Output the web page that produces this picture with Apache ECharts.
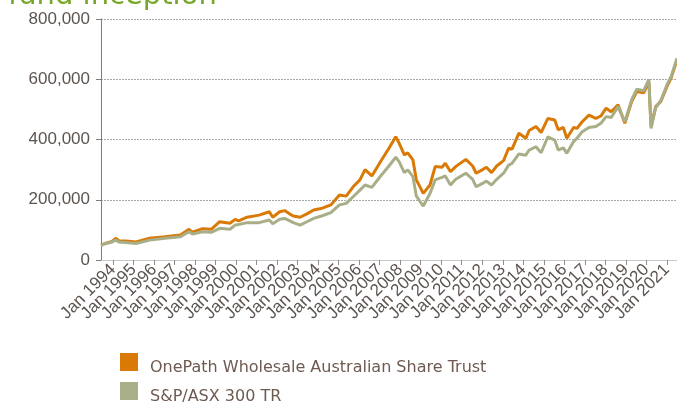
<!DOCTYPE html>
<html>
<head>
<meta charset="utf-8">
<title>fund inception</title>
<script src="https://cdn.jsdelivr.net/npm/echarts@6/dist/echarts.min.js"></script>
<style>
  html, body { margin: 0; padding: 0; background: #fff; }
  #chart { width: 677px; height: 405px; }
</style>
</head>
<body>
<div id="chart"></div>
<script>
// readings (dates + value of $ invested)
const dates = [
  '1993-06-01', '1993-08-15', '1993-12-15', '1994-02-15', '1994-04-15', '1994-08-15',
  '1995-02-15', '1995-10-15', '1996-07-15', '1997-04-15', '1997-09-15', '1997-11-15',
  '1998-05-15', '1998-10-15', '1999-03-15', '1999-09-15', '1999-12-15', '2000-02-15',
  '2000-07-15', '2001-02-15', '2001-08-15', '2001-10-15', '2002-02-15', '2002-05-15',
  '2002-08-15', '2002-10-15', '2003-02-15', '2003-06-15', '2003-10-15', '2004-03-15',
  '2004-08-15', '2005-01-15', '2005-05-15', '2005-09-15', '2006-01-15', '2006-04-15',
  '2006-08-15', '2007-01-15', '2007-06-15', '2007-10-15', '2007-12-15', '2008-03-15',
  '2008-05-15', '2008-08-15', '2008-10-15', '2009-02-15', '2009-06-15', '2009-09-15',
  '2010-01-15', '2010-03-15', '2010-06-15', '2010-09-15', '2011-03-15', '2011-07-15',
  '2011-09-15', '2012-01-15', '2012-03-15', '2012-06-15', '2012-09-15', '2013-01-15',
  '2013-04-15', '2013-06-15', '2013-10-15', '2014-02-15', '2014-04-15', '2014-08-15',
  '2014-11-15', '2015-03-15', '2015-07-15', '2015-09-15', '2015-12-15', '2016-02-15',
  '2016-06-15', '2016-08-15', '2016-11-15', '2017-03-15', '2017-07-15', '2017-10-15',
  '2018-01-15', '2018-04-15', '2018-08-15', '2018-12-15', '2019-04-15', '2019-07-15',
  '2019-11-15', '2020-02-15', '2020-03-25', '2020-06-15', '2020-09-15', '2021-01-15',
  '2021-03-15', '2021-06-30'
];
const fundValues = [
  49000, 55000, 62000, 72000, 64000, 63000,
  60000, 72000, 77000, 83000, 102000, 92000,
  104000, 102000, 127000, 122000, 135000, 130000,
  142000, 149000, 160000, 142000, 160000, 164000,
  153000, 146000, 142000, 153000, 166000, 172000,
  183000, 216000, 212000, 243000, 266000, 300000,
  279000, 326000, 371000, 409000, 387000, 349000,
  356000, 332000, 266000, 221000, 249000, 310000,
  308000, 321000, 293000, 310000, 334000, 312000,
  288000, 301000, 308000, 290000, 312000, 330000,
  371000, 368000, 421000, 404000, 430000, 443000,
  423000, 470000, 465000, 432000, 440000, 404000,
  440000, 437000, 459000, 481000, 470000, 478000,
  504000, 492000, 515000, 454000, 526000, 559000,
  555000, 592000, 443000, 509000, 526000, 581000,
  603000, 664000
];
const indexValues = [
  48000, 54000, 60000, 66000, 60000, 58000,
  55000, 66000, 72000, 77000, 94000, 86000,
  94000, 92000, 105000, 102000, 116000, 118000,
  124000, 124000, 133000, 120000, 135000, 138000,
  130000, 124000, 116000, 127000, 138000, 147000,
  157000, 183000, 188000, 210000, 232000, 249000,
  241000, 278000, 312000, 341000, 326000, 290000,
  299000, 277000, 212000, 179000, 221000, 266000,
  274000, 279000, 249000, 268000, 288000, 268000,
  243000, 255000, 262000, 249000, 268000, 288000,
  315000, 321000, 352000, 348000, 365000, 376000,
  356000, 409000, 398000, 365000, 372000, 354000,
  393000, 404000, 426000, 440000, 443000, 454000,
  476000, 473000, 509000, 459000, 532000, 567000,
  562000, 600000, 437000, 505000, 530000, 587000,
  608000, 670000
];
const seriesNames = ['OnePath Wholesale Australian Share Trust', 'S&P/ASX 300 TR'];
const yTicks = [0, 200000, 400000, 600000, 800000];

const DAY = 24 * 3600 * 1000;
const chart = echarts.init(document.getElementById('chart'), null, { renderer: 'canvas' });

function pairs(values) {
  return values.map((v, i) => [dates[i], v]);
}

const option = {
  animation: false,
  graphic: [{
    type: 'text',
    left: 8,
    top: -18,
    style: {
      text: 'fund inception',
      font: '29px "DejaVu Sans"',
      fill: '#76a728'
    }
  }],
  legend: {
    orient: 'vertical',
    left: 120,
    top: 353,
    height: 90,
    padding: 0,
    itemWidth: 18,
    itemHeight: 18,
    itemGap: 6,
    icon: 'rect',
    selectedMode: false,
    formatter: '{t|{name}}',
    textStyle: {
      rich: {
        t: {
          fontFamily: 'DejaVu Sans',
          fontSize: 16,
          color: '#6e5a50',
          padding: [12, 0, 0, 7]
        }
      }
    },
    data: seriesNames
  },
  grid: {
    left: 101,
    right: 0,
    top: 19,
    bottom: 145,
    containLabel: false
  },
  xAxis: {
    type: 'time',
    min: dates[0],
    max: dates[dates.length - 1],
    minInterval: 365 * DAY,
    maxInterval: 366 * DAY,
    axisLine: { lineStyle: { color: '#c8c8c8', width: 1 } },
    axisTick: { show: true, length: 5, lineStyle: { color: '#8c8c8c' } },
    axisLabel: {
      rotate: 45,
      margin: 7,
      hideOverlap: false,
      showMinLabel: false,
      showMaxLabel: false,
      fontFamily: 'Liberation Sans',
      fontSize: 17,
      color: '#5d5450',
      formatter: function (val) {
        return 'Jan ' + new Date(val).getFullYear();
      }
    },
    splitLine: { show: false }
  },
  yAxis: {
    type: 'value',
    min: yTicks[0],
    max: yTicks[yTicks.length - 1],
    interval: yTicks[1] - yTicks[0],
    axisLine: { show: true, lineStyle: { color: '#857a76', width: 1 } },
    axisTick: { show: true, length: 5, lineStyle: { color: '#857a76' } },
    axisLabel: {
      margin: 11,
      fontFamily: 'Liberation Sans',
      fontSize: 17,
      color: '#5d5450',
      formatter: function (v) { return v.toLocaleString('en-US'); }
    },
    splitLine: { show: true, lineStyle: { color: '#a8a8a8', type: [2, 1], width: 1 } }
  },
  series: [
    {
      name: seriesNames[0],
      type: 'line',
      data: pairs(fundValues),
      showSymbol: false,
      color: '#d97a06',
      lineStyle: { width: 3, color: '#d97a06' }
    },
    {
      name: seriesNames[1],
      type: 'line',
      data: pairs(indexValues),
      showSymbol: false,
      color: '#a8af88',
      lineStyle: { width: 3, color: '#a8af88' }
    }
  ]
};

chart.setOption(option);
</script>
</body>
</html>
